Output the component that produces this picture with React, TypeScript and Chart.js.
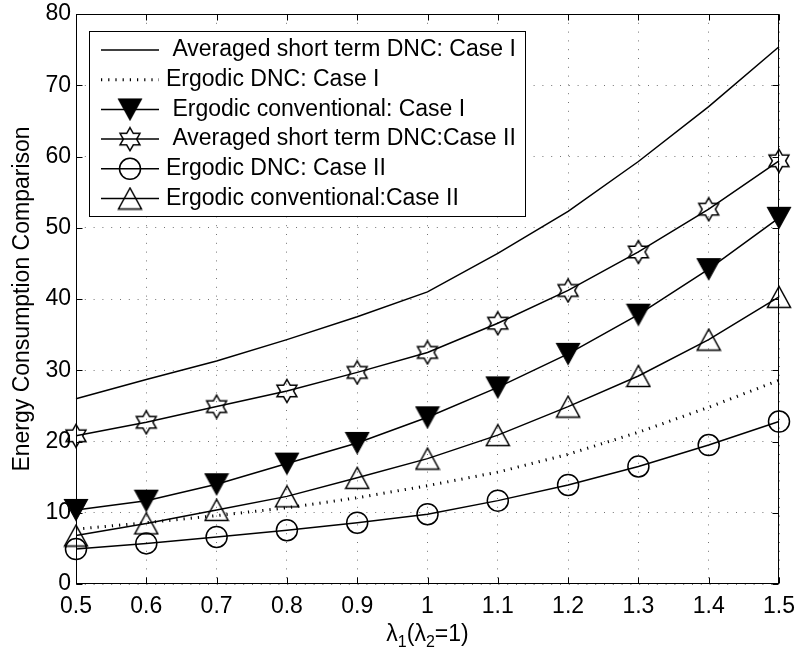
import React, { useEffect, useRef } from 'react';
import { Chart, registerables } from 'chart.js';

Chart.register(...registerables);

// ---------- data ----------
const lambda1 = [0.5, 0.6, 0.7, 0.8, 0.9, 1.0, 1.1, 1.2, 1.3, 1.4, 1.5];
const avgShortDncCase1 = [26.0, 28.7, 31.3, 34.3, 37.5, 41.0, 46.4, 52.3, 59.3, 67.0, 75.4];
const ergodicDncCase1 = [7.7, 8.6, 9.6, 10.7, 12.1, 13.8, 15.7, 18.2, 21.3, 24.8, 28.6];
const ergodicConvCase1 = [10.4, 11.7, 14.0, 16.9, 19.8, 23.4, 27.6, 32.3, 37.8, 44.2, 51.4];
const avgShortDncCase2 = [20.8, 22.7, 24.9, 27.1, 29.7, 32.5, 36.6, 41.2, 46.6, 52.6, 59.4];
const ergodicDncCase2 = [4.9, 5.7, 6.6, 7.55, 8.6, 9.8, 11.7, 13.9, 16.5, 19.5, 22.8];
const ergodicConvCase2 = [6.8, 8.5, 10.4, 12.3, 14.9, 17.6, 20.9, 24.9, 29.2, 34.3, 40.3];

const seriesLabels = [
  ' Averaged short term DNC: Case I',
  'Ergodic DNC: Case I',
  ' Ergodic conventional: Case I',
  ' Averaged short term DNC:Case II',
  'Ergodic DNC: Case II',
  'Ergodic conventional:Case II',
];

const xTickValues = [0.5, 0.6, 0.7, 0.8, 0.9, 1.0, 1.1, 1.2, 1.3, 1.4, 1.5];
const xTickLabels = ['0.5', '0.6', '0.7', '0.8', '0.9', '1', '1.1', '1.2', '1.3', '1.4', '1.5'];
const yTickValues = [0, 10, 20, 30, 40, 50, 60, 70, 80];
const yTickLabels = ['0', '10', '20', '30', '40', '50', '60', '70', '80'];

const yTitle = 'Energy Consumption Comparison';

const FONT = '"Liberation Sans", Arial, Helvetica, sans-serif';
const FS = 23;

function makeCanvas(w: number, h: number, draw: (g: CanvasRenderingContext2D) => void) {
  const c = document.createElement('canvas');
  c.width = w;
  c.height = h;
  const g = c.getContext('2d')!;
  draw(g);
  return c;
}

function makeMarkers() {
  const hexagram = makeCanvas(26, 26, (g) => {
    const cx = 13, cy = 13, R = 11.5, r = R / Math.sqrt(3);
    g.beginPath();
    for (let i = 0; i < 12; i++) {
      const ang = -Math.PI / 2 + (i * Math.PI) / 6;
      const rad = i % 2 === 0 ? R : r;
      const x = cx + Math.cos(ang) * rad;
      const y = cy + Math.sin(ang) * rad;
      if (i === 0) g.moveTo(x, y);
      else g.lineTo(x, y);
    }
    g.closePath();
    g.lineWidth = 1.5;
    g.strokeStyle = '#000';
    g.stroke();
  });
  const triUp = makeCanvas(26, 24, (g) => {
    g.beginPath();
    g.moveTo(13, 1.5);
    g.lineTo(1.5, 22.5);
    g.lineTo(24.5, 22.5);
    g.closePath();
    g.lineWidth = 1.5;
    g.strokeStyle = '#000';
    g.stroke();
  });
  const triDown = makeCanvas(26, 24, (g) => {
    g.beginPath();
    g.moveTo(1.5, 1.5);
    g.lineTo(24.5, 1.5);
    g.lineTo(13, 22.5);
    g.closePath();
    g.fillStyle = '#000';
    g.fill();
    g.lineWidth = 1.2;
    g.strokeStyle = '#000';
    g.stroke();
  });
  return { hexagram, triUp, triDown };
}

const framePlugin = {
  id: 'frame',
  afterDatasetsDraw(chart: any) {
    const { ctx, chartArea: a, scales } = chart;
    const L = Math.floor(a.left) + 0.5;
    const R = Math.floor(a.right) - 0.5;
    const T = Math.floor(a.top) + 0.5;
    const B = Math.floor(a.bottom) - 0.5;
    ctx.save();
    ctx.strokeStyle = '#000';
    ctx.lineWidth = 1;
    ctx.setLineDash([]);
    ctx.strokeRect(L, T, R - L, B - T);
    const tl = 6;
    ctx.beginPath();
    for (const v of xTickValues) {
      const x = Math.round(scales.x.getPixelForValue(v)) + 0.5;
      ctx.moveTo(x, B);
      ctx.lineTo(x, B - tl);
      ctx.moveTo(x, T);
      ctx.lineTo(x, T + tl);
    }
    for (const v of yTickValues) {
      const y = Math.round(scales.y.getPixelForValue(v)) + 0.5;
      ctx.moveTo(L, y);
      ctx.lineTo(L + tl, y);
      ctx.moveTo(R, y);
      ctx.lineTo(R - tl, y);
    }
    ctx.stroke();
    ctx.restore();
  },
};

const legendPlugin = {
  id: 'matlabLegend',
  afterDraw(chart: any) {
    const { ctx } = chart;
    const bx = 89.5, by = 31.5, bw = 436, bh = 185;
    ctx.save();
    ctx.fillStyle = '#fff';
    ctx.fillRect(bx, by, bw, bh);
    ctx.strokeStyle = '#000';
    ctx.lineWidth = 1;
    ctx.setLineDash([]);
    ctx.strokeRect(bx, by, bw, bh);
    const rowY0 = 50, rowStep = 29.7;
    chart.data.datasets.forEach((ds: any, i: number) => {
      const y = rowY0 + i * rowStep;
      ctx.save();
      ctx.strokeStyle = '#000';
      ctx.lineWidth = ds.borderWidth;
      ctx.setLineDash(ds.borderDash || []);
      ctx.beginPath();
      ctx.moveTo(101, y);
      ctx.lineTo(159, y);
      ctx.stroke();
      ctx.restore();
      const ps = ds.pointStyle;
      if (ps && typeof ps === 'object') {
        ctx.drawImage(ps, 130 - ps.width / 2, y - ps.height / 2);
      } else if (ps === 'circle' && ds.pointRadius > 0) {
        ctx.beginPath();
        ctx.arc(130, y, ds.pointRadius, 0, Math.PI * 2);
        ctx.lineWidth = ds.pointBorderWidth;
        ctx.strokeStyle = '#000';
        ctx.stroke();
      }
      ctx.fillStyle = '#000';
      ctx.font = `${FS}px ${FONT}`;
      ctx.textBaseline = 'middle';
      ctx.textAlign = 'left';
      ctx.fillText(ds.label, 166, y);
    });
    ctx.restore();
  },
};

const xTitlePlugin = {
  id: 'xTitle',
  afterDraw(chart: any) {
    const { ctx, chartArea: a } = chart;
    const big = `${FS}px ${FONT}`;
    const small = `16px ${FONT}`;
    const parts: [string, string, number][] = [
      ['\u03bb', big, 0],
      ['1', small, 6],
      ['(\u03bb', big, 0],
      ['2', small, 6],
      ['=1)', big, 0],
    ];
    ctx.save();
    ctx.fillStyle = '#000';
    ctx.textBaseline = 'alphabetic';
    ctx.textAlign = 'left';
    let total = 0;
    for (const [t, f] of parts) {
      ctx.font = f;
      total += ctx.measureText(t).width;
    }
    let x = (a.left + a.right) / 2 - total / 2;
    const base = 641;
    for (const [t, f, dy] of parts) {
      ctx.font = f;
      ctx.fillText(t, x, base + dy);
      x += ctx.measureText(t).width;
    }
    ctx.restore();
  },
};

export default function App() {
  const ref = useRef<HTMLCanvasElement | null>(null);

  useEffect(() => {
    document.body.style.margin = '0';
    const { hexagram, triUp, triDown } = makeMarkers();
    const mk = (arr: number[]) => lambda1.map((x, i) => ({ x, y: arr[i] }));
    const base = {
      borderColor: '#000',
      backgroundColor: 'rgba(0,0,0,0)',
      pointBorderColor: '#000',
      pointBackgroundColor: 'rgba(0,0,0,0)',
      borderWidth: 1.5,
      tension: 0,
      clip: false as const,
    };
    const chart = new Chart(ref.current!, {
      type: 'line',
      data: {
        datasets: [
          { ...base, label: seriesLabels[0], data: mk(avgShortDncCase1), pointRadius: 0 },
          {
            ...base,
            label: seriesLabels[1],
            data: mk(ergodicDncCase1),
            pointRadius: 0,
            borderWidth: 3,
            borderDash: [1.2, 6],
            borderCapStyle: 'butt',
          },
          { ...base, label: seriesLabels[2], data: mk(ergodicConvCase1), pointStyle: triDown, pointRadius: 10 },
          { ...base, label: seriesLabels[3], data: mk(avgShortDncCase2), pointStyle: hexagram, pointRadius: 10 },
          {
            ...base,
            label: seriesLabels[4],
            data: mk(ergodicDncCase2),
            pointStyle: 'circle',
            pointRadius: 10.5,
            pointBorderWidth: 1.5,
          },
          { ...base, label: seriesLabels[5], data: mk(ergodicConvCase2), pointStyle: triUp, pointRadius: 10 },
        ] as any,
      },
      options: {
        animation: false,
        responsive: false,
        events: [],
        layout: { padding: { top: 14, right: 18, left: 0, bottom: 0 } },
        plugins: {
          legend: { display: false },
          tooltip: { enabled: false },
        },
        scales: {
          x: {
            type: 'linear',
            min: 0.5,
            max: 1.5,
            afterBuildTicks: (s: any) => {
              s.ticks = xTickValues.map((v) => ({ value: v }));
            },
            afterFit: (s: any) => {
              s.height = 64;
              s.paddingLeft = 0;
              s.paddingRight = 0;
            },
            ticks: {
              color: '#000',
              font: { family: FONT, size: FS },
              padding: 9,
              maxRotation: 0,
              autoSkip: false,
              callback: (_v: any, i: number) => xTickLabels[i],
            },
            grid: { color: 'rgba(0,0,0,0.55)', lineWidth: 1, drawTicks: false },
            border: { display: false, dash: [1, 7.8] },
          },
          y: {
            type: 'linear',
            min: 0,
            max: 80,
            afterBuildTicks: (s: any) => {
              s.ticks = yTickValues.map((v) => ({ value: v }));
            },
            afterFit: (s: any) => {
              s.width = 76;
              s.paddingTop = 0;
              s.paddingBottom = 0;
            },
            ticks: {
              color: '#000',
              font: { family: FONT, size: FS },
              padding: 5,
              autoSkip: false,
              callback: (_v: any, i: number) => yTickLabels[i],
            },
            grid: { color: 'rgba(0,0,0,0.55)', lineWidth: 1, drawTicks: false },
            border: { display: false, dash: [1, 7.8] },
            title: {
              display: true,
              text: yTitle,
              color: '#000',
              font: { family: FONT, size: FS },
              padding: { top: 9, bottom: 0 },
            },
          },
        },
      },
      plugins: [framePlugin, legendPlugin, xTitlePlugin],
    });
    return () => chart.destroy();
  }, []);

  return (
    <div style={{ width: 797, height: 648 }}>
      <canvas ref={ref} width={797} height={648} style={{ display: 'block' }} />
    </div>
  );
}
